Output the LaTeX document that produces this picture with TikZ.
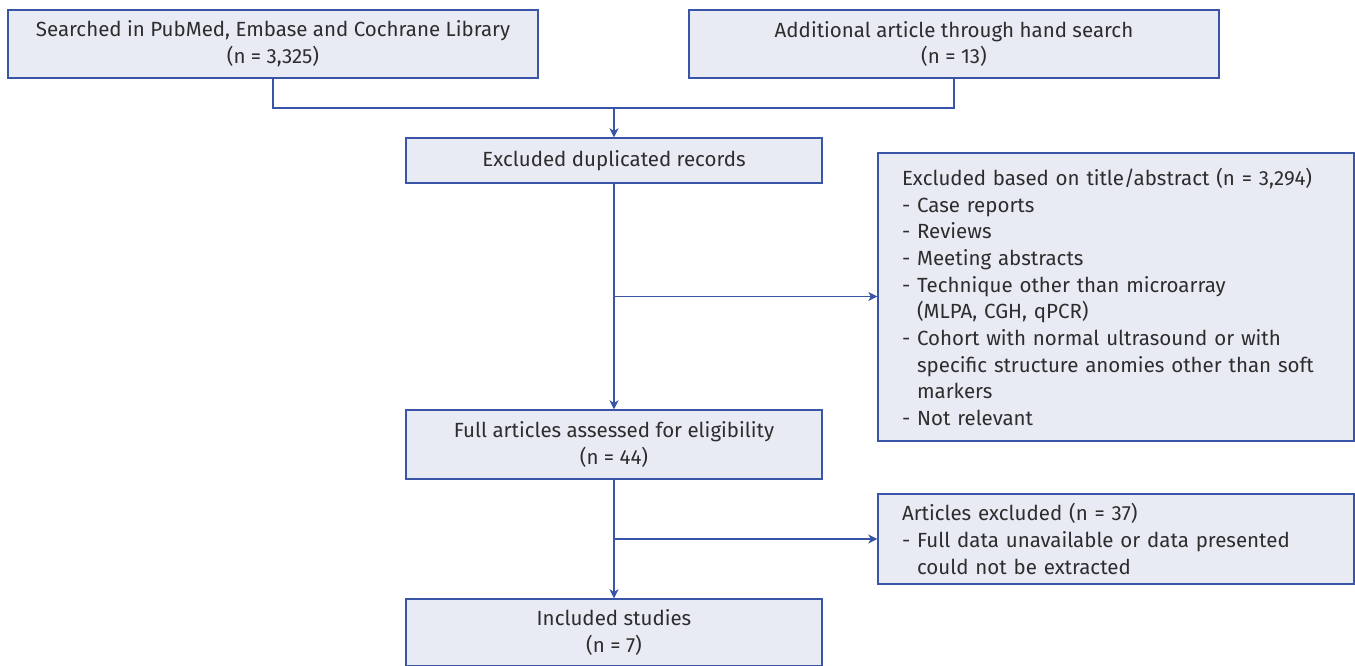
\documentclass[tikz,border=0pt]{standalone}
\usepackage{fontspec}
\setmainfont{Fira Sans}
\usepackage{xcolor}
\usepackage{tikz}
\usetikzlibrary{positioning, arrows.meta, calc}
\definecolor{boxfill}{RGB}{232,235,244}
\definecolor{boxline}{RGB}{58,84,168}
\definecolor{boxtext}{RGB}{45,45,45}
\tikzset{
x=1pt, y=-1pt, % one unit is one pixel of the figure
>={Stealth[length=9pt, width=9pt, inset=2.5pt]}, % filled arrow heads
box/.style={draw=boxline, line width=1.4pt, fill=boxfill, text=boxtext, align=center, inner sep=0pt, font=\fontsize{20.5}{26.7}\selectfont}, % every box of the chart
listbox/.style={box, align=left, inner xsep=24pt, text width=428pt}, % boxes with a list of reasons
link/.style={draw=boxline, line width=1.4pt}, % connectors
}

\begin{document}
\begin{tikzpicture}
    \useasboundingbox (0,0) rectangle (1355,666);

    \node[box, minimum width=530pt, minimum height=68pt] (search) at (273,44) {Searched in PubMed, Embase and Cochrane Library\\(n = 3,325)};
    \node[box, minimum width=530pt, minimum height=68pt] (hand) at (954,44) {Additional article through hand search\\(n = 13)};
    \node[box, minimum width=416pt, minimum height=45pt] (dupl) at (614,160.5) {Excluded duplicated records};
    \node[box, minimum width=416pt, minimum height=69pt] (full) at (614,444.5) {Full articles assessed for eligibility\\(n = 44)};
    \node[box, minimum width=416pt, minimum height=67pt] (incl) at (614,632.5) {Included studies\\(n = 7)};

    \node[listbox, minimum height=288pt] (title) at (1116,297) {Excluded based on title/abstract (n = 3,294)\\
        - Case reports\\
        - Reviews\\
        - Meeting abstracts\\
        - Technique other than microarray\\
        \phantom{- }(MLPA, CGH, qPCR)\\
        - Cohort with normal ultrasound or with\\
        \phantom{- }specific structure anomies other than soft\\
        \phantom{- }markers\\
        - Not relevant};
    \node[listbox, minimum height=90pt] (excl) at (1116,539) {Articles excluded (n = 37)\\
        - Full data unavailable or data presented\\
        \phantom{- }could not be extracted};

    \coordinate (join) at (614,108);
    \coordinate (split1) at ($(dupl.south)!0.5!(full.north)$);
    \coordinate (split2) at ($(full.south)!0.5!(incl.north)$);

    \draw[link] (search.south) |- (join) -| (hand.south);
    \draw[link, ->] (join) -- (dupl.north);
    \draw[link, ->] (dupl.south) -- (full.north);
    \draw[link, ->] (split1) -- (split1 -| title.west);
    \draw[link, ->] (full.south) -- (incl.north);
    \draw[link, ->] (split2) -- (split2 -| excl.west);
\end{tikzpicture}
\end{document}
